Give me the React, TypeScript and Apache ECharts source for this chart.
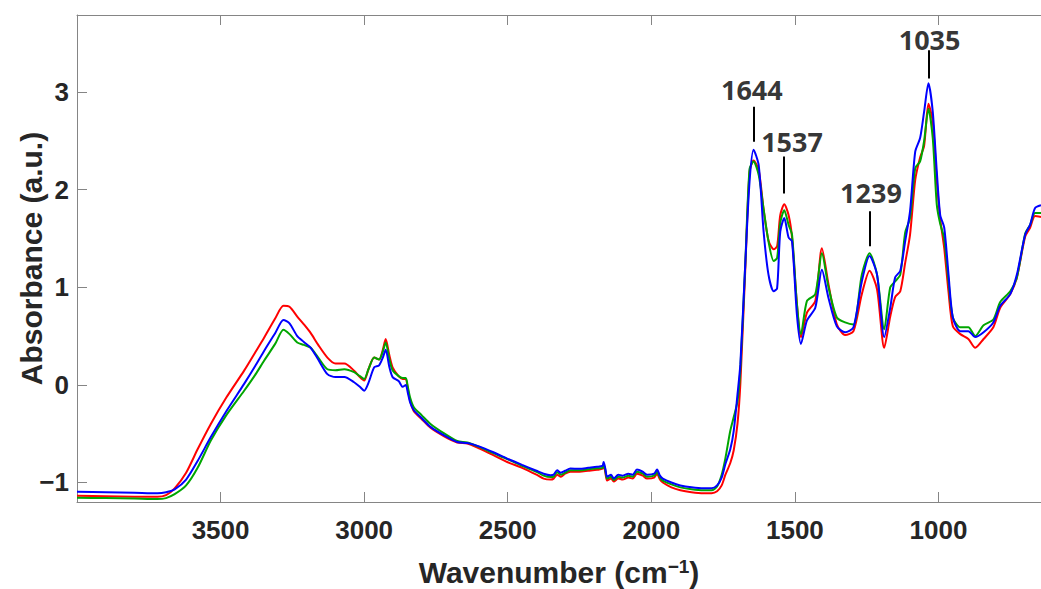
import React, { useEffect, useRef } from "react";
import * as echarts from "echarts";

const wavenumbers = [
  4000, 3900, 3800, 3720, 3690, 3660, 3620, 3580, 3534, 3480,
  3418, 3380, 3348, 3310, 3281, 3260, 3233, 3210, 3186, 3160,
  3128, 3100, 3069, 3035, 3015, 3000, 2985, 2965, 2948, 2935,
  2925, 2912, 2901, 2880, 2866, 2855, 2848, 2840, 2827, 2800,
  2769, 2720, 2676, 2641, 2600, 2550, 2502, 2450, 2400, 2375,
  2351, 2340, 2328, 2315, 2300, 2282, 2250, 2220, 2189, 2170,
  2166, 2160, 2154, 2140, 2131, 2115, 2100, 2080, 2065, 2050,
  2030, 2015, 1990, 1980, 1970, 1960, 1930, 1899, 1860, 1818,
  1790, 1771, 1755, 1742, 1725, 1713, 1700, 1690, 1673, 1658,
  1644, 1626, 1609, 1592, 1574, 1562, 1551, 1537, 1522, 1510,
  1493, 1479, 1458, 1429, 1406, 1383, 1354, 1325, 1296, 1267,
  1240, 1214, 1189, 1168, 1151, 1133, 1116, 1099, 1081, 1064,
  1050, 1035, 1020, 1006, 994, 980, 965, 950, 924, 896,
  872, 843, 809, 785, 750, 727, 698, 681, 664, 643,
];

const redValues = [
  -1.137, -1.14, -1.145, -1.147, -1.13, -1.06, -0.9, -0.66, -0.4, -0.13,
  0.146, 0.33, 0.486, 0.68, 0.81, 0.8, 0.7, 0.62, 0.53, 0.41,
  0.28, 0.22, 0.22, 0.146, 0.08, 0.044, 0.16, 0.28, 0.26, 0.36,
  0.47, 0.3, 0.18, 0.09, 0.06, 0.06, -0.04, -0.16, -0.27, -0.35,
  -0.44, -0.53, -0.59, -0.6, -0.65, -0.72, -0.79, -0.85, -0.92, -0.96,
  -0.97, -0.96, -0.92, -0.94, -0.91, -0.89, -0.89, -0.88, -0.87, -0.86,
  -0.82, -0.9, -0.98, -0.96, -0.99, -0.96, -0.97, -0.95, -0.96, -0.91,
  -0.93, -0.96, -0.95, -0.91, -0.97, -1.0, -1.05, -1.08, -1.1, -1.11,
  -1.11, -1.09, -1.03, -0.92, -0.8, -0.67, -0.4, 0.01, 1.17, 2.18,
  2.3, 2.2, 1.8, 1.48, 1.39, 1.42, 1.74, 1.85, 1.74, 1.51,
  0.83, 0.49, 0.74, 0.86, 1.4, 1.03, 0.62, 0.51, 0.55, 0.93,
  1.17, 0.98, 0.38, 0.7, 0.9, 0.96, 1.25, 1.54, 2.1, 2.33,
  2.45, 2.88, 2.7, 2.1, 1.7, 1.4, 0.95, 0.6, 0.52, 0.47,
  0.38, 0.47, 0.59, 0.79, 0.93, 1.1, 1.52, 1.61, 1.73, 1.72,
];

const greenValues = [
  -1.157, -1.16, -1.165, -1.17, -1.16, -1.12, -1.03, -0.85, -0.57, -0.31,
  -0.06, 0.1, 0.25, 0.42, 0.565, 0.52, 0.435, 0.41, 0.38, 0.28,
  0.16, 0.15, 0.16, 0.13, 0.09, 0.06, 0.16, 0.28, 0.26, 0.34,
  0.435, 0.26, 0.15, 0.09, 0.07, 0.07, -0.02, -0.13, -0.23, -0.31,
  -0.4, -0.5, -0.575, -0.59, -0.635, -0.7, -0.76, -0.83, -0.89, -0.93,
  -0.945, -0.94, -0.895, -0.92, -0.9, -0.875, -0.875, -0.865, -0.855, -0.85,
  -0.81, -0.88, -0.96, -0.94, -0.975, -0.94, -0.95, -0.93, -0.94, -0.89,
  -0.91, -0.94, -0.93, -0.89, -0.95, -0.98, -1.02, -1.05, -1.07, -1.08,
  -1.08, -1.04, -0.92, -0.75, -0.47, -0.33, -0.17, 0.16, 1.23, 2.21,
  2.29, 2.15, 1.8, 1.47, 1.27, 1.3, 1.66, 1.79, 1.64, 1.54,
  0.83, 0.52, 0.86, 0.93, 1.35, 1.0, 0.69, 0.64, 0.62, 1.13,
  1.35, 1.13, 0.57, 1.0, 1.06, 1.13, 1.56, 1.71, 2.22, 2.29,
  2.5, 2.83, 2.53, 1.85, 1.65, 1.5, 1.06, 0.69, 0.59, 0.59,
  0.5, 0.61, 0.67, 0.85, 0.96, 1.1, 1.55, 1.64, 1.76, 1.76,
];

const blueValues = [
  -1.096, -1.1, -1.105, -1.11, -1.1, -1.07, -0.97, -0.78, -0.535, -0.27,
  0.01, 0.19, 0.35, 0.53, 0.666, 0.63, 0.5, 0.44, 0.38, 0.26,
  0.11, 0.08, 0.08, 0.027, -0.02, -0.06, 0.02, 0.18, 0.2, 0.28,
  0.36, 0.18, 0.08, 0.04, -0.02, 0.0, -0.08, -0.18, -0.26, -0.34,
  -0.43, -0.52, -0.585, -0.596, -0.63, -0.69, -0.755, -0.82, -0.88, -0.91,
  -0.925, -0.92, -0.875, -0.9, -0.88, -0.857, -0.86, -0.85, -0.84, -0.83,
  -0.79, -0.86, -0.94, -0.92, -0.96, -0.92, -0.93, -0.91, -0.92, -0.868,
  -0.89, -0.92, -0.91, -0.868, -0.93, -0.96, -1.0, -1.03, -1.05, -1.06,
  -1.06, -1.03, -0.95, -0.81, -0.66, -0.47, -0.1, 0.21, 1.23, 2.08,
  2.41, 2.25, 1.57, 1.13, 0.96, 0.99, 1.57, 1.71, 1.51, 1.47,
  0.72, 0.42, 0.66, 0.79, 1.18, 0.89, 0.6, 0.54, 0.59, 1.06,
  1.32, 1.13, 0.49, 0.79, 1.1, 1.17, 1.47, 1.78, 2.39, 2.53,
  2.8, 3.09, 2.8, 2.19, 1.74, 1.61, 1.13, 0.69, 0.55, 0.55,
  0.49, 0.54, 0.64, 0.81, 0.93, 1.13, 1.54, 1.64, 1.81, 1.84,
];

const xTickValues = [1000, 1500, 2000, 2500, 3000, 3500];
const yTickValues = [-1, 0, 1, 2, 3];

const peakLabels = ["1644", "1537", "1239", "1035"];
const peakLineX = [1644, 1540, 1241, 1035];
const peakLineBottom = [2.49, 1.96, 1.42, 3.14];
const peakLineTop = [2.85, 2.34, 1.78, 3.43];
const peakLabelX = [1650, 1510, 1235, 1031];
const peakLabelY = [3.03, 2.49, 1.97, 3.54];

const AXIS_GRAY = "#858585";
const TICK_FONT = "'Liberation Sans', Arial, sans-serif";

export default function App() {
  const ref = useRef<HTMLDivElement>(null);

  useEffect(() => {
    if (!ref.current) return;
    const chart = echarts.init(ref.current, null, { renderer: "svg" });

    const mk = (vals: number[]) => wavenumbers.map((w, i) => [w, vals[i]]);
    const lineSeries = (name: string, color: string, vals: number[]) => ({
      name,
      type: "line",
      data: mk(vals),
      showSymbol: false,
      symbol: "none",
      smooth: 0.25,
      lineStyle: { color, width: 2 },
      silent: true,
      z: 2,
    });

    const option: any = {
      animation: false,
      backgroundColor: "#ffffff",
      grid: {
        left: 77,
        right: 0,
        top: 15,
        bottom: 87,
        containLabel: false,
        outerBoundsMode: "none",
      },
      xAxis: [
        {
          type: "value",
          inverse: true,
          min: 643,
          max: 4000,
          name: "{a|Wavenumber (cm}{s|\u22121}{a|)}",
          nameLocation: "middle",
          nameGap: 55,
          nameTextStyle: {
            rich: {
              a: {
                fontSize: 30,
                fontWeight: "bold",
                fontFamily: TICK_FONT,
                color: "#262626",
                lineHeight: 30,
              },
              s: {
                fontSize: 19,
                fontWeight: "bold",
                fontFamily: TICK_FONT,
                color: "#262626",
                verticalAlign: "top",
                lineHeight: 30,
                padding: [0, 0, 12, 0],
              },
            },
          },
          axisLine: { show: true, onZero: false, lineStyle: { color: AXIS_GRAY, width: 1 } },
          axisTick: {
            show: true,
            inside: true,
            length: 10,
            customValues: xTickValues,
            lineStyle: { color: AXIS_GRAY },
          },
          axisLabel: {
            show: true,
            customValues: xTickValues,
            margin: 15,
            fontSize: 26,
            fontWeight: "bold",
            fontFamily: TICK_FONT,
            color: "#262626",
            formatter: (v: number) => String(v),
          },
          splitLine: { show: false },
        },
        {
          type: "value",
          position: "top",
          inverse: true,
          min: 643,
          max: 4000,
          axisLine: { show: true, onZero: false, lineStyle: { color: AXIS_GRAY, width: 1 } },
          axisTick: {
            show: true,
            inside: true,
            length: 10,
            customValues: xTickValues,
            lineStyle: { color: AXIS_GRAY },
          },
          axisLabel: { show: false },
          splitLine: { show: false },
        },
      ],
      yAxis: {
        type: "value",
        min: -1.2,
        max: 3.79,
        name: "Absorbance (a.u.)",
        nameLocation: "middle",
        nameGap: 31,
        nameMoveOverlap: false,
        nameTextStyle: {
          fontSize: 30,
          fontWeight: "bold",
          fontFamily: TICK_FONT,
          color: "#262626",
        },
        axisLine: { show: true, onZero: false, lineStyle: { color: AXIS_GRAY, width: 1 } },
        axisTick: {
          show: true,
          inside: true,
          length: 10,
          customValues: yTickValues,
          lineStyle: { color: AXIS_GRAY },
        },
        axisLabel: {
          show: true,
          customValues: yTickValues,
          margin: 8,
          fontSize: 26,
          fontWeight: "bold",
          fontFamily: TICK_FONT,
          color: "#262626",
          formatter: (v: number) => (v < 0 ? "\u2212" + Math.abs(v) : String(v)),
        },
        splitLine: { show: false },
      },
      series: [
        {
          ...lineSeries("red", "#ff0000", redValues),
          markLine: {
            silent: true,
            symbol: "none",
            label: { show: false },
            lineStyle: { color: "#000000", width: 2, type: "solid" },
            data: peakLineX.map((x, i) => [
              { coord: [x, peakLineBottom[i]] },
              { coord: [x, peakLineTop[i]] },
            ]),
          },
        },
        lineSeries("green", "#00a600", greenValues),
        lineSeries("blue", "#0000ff", blueValues),
        {
          type: "scatter",
          symbolSize: 0,
          silent: true,
          data: peakLabels.map((t, i) => ({ value: [peakLabelX[i], peakLabelY[i]], name: t })),
          label: {
            show: true,
            position: "inside",
            formatter: (p: any) => p.name,
            fontSize: 27,
            fontWeight: "bold",
            fontFamily: "'Noto Sans', 'Open Sans', sans-serif",
            color: "#000000",
          },
          z: 5,
        },
      ],
    };

    chart.setOption(option);
    return () => chart.dispose();
  }, []);

  return (
    <div
      ref={ref}
      style={{ position: "fixed", left: 0, top: 0, width: 1041, height: 589, background: "#fff" }}
    />
  );
}
